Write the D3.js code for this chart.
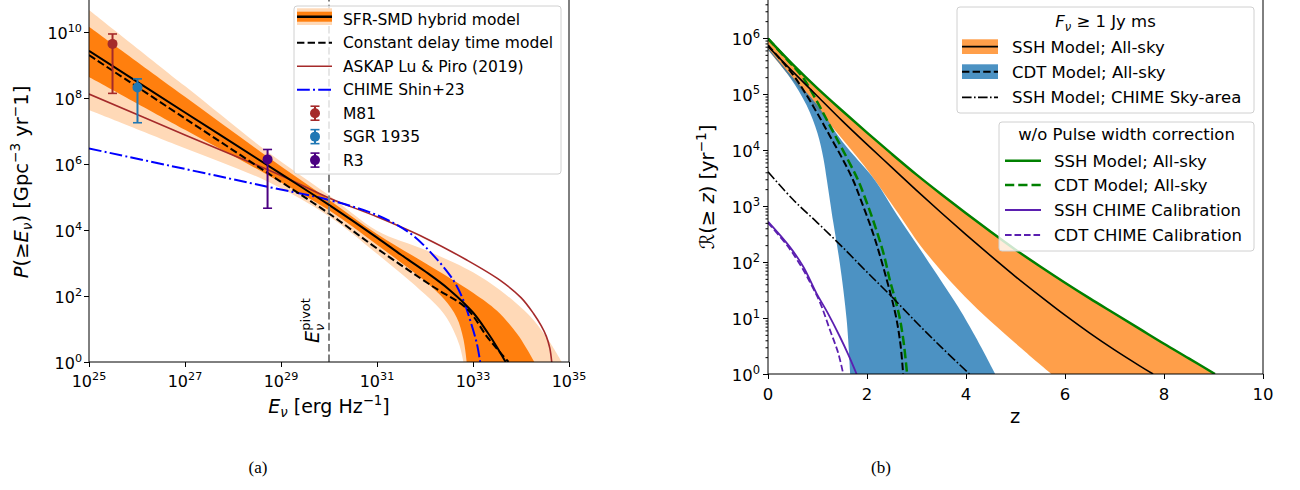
<!DOCTYPE html>
<html><head><meta charset="utf-8">
<script src="https://cdn.jsdelivr.net/npm/d3@7"></script>
<style>
body{margin:0;background:#fff}
svg{display:block}
text{font-family:"DejaVu Sans",sans-serif;fill:#000}
</style>
</head><body>
<svg id="c" width="1300" height="490"></svg>
<script>
// ---------------- DATA (log10 values) ----------------
// Panel (a): x = log10(E_nu / erg Hz^-1), y = log10(P / Gpc^-3 yr^-1)
const leftXTicks = [25, 27, 29, 31, 33, 35];
const leftYTicks = [0, 2, 4, 6, 8, 10];
const hybridModel = [[25,9.43],[27,7.56],[29,5.70],[30,4.76],[31,3.77],[31.5,3.25],[32,2.75],[32.5,2.2],[33,1.5],[33.3,0.9],[33.5,0.45],[33.68,0]];
const constDelayModel = [[25,9.30],[27,7.38],[29,5.46],[30,4.50],[31,3.44],[32.17,2.28],[32.87,1.62],[33.29,0.77],[33.5,0.4],[33.74,0]];
const hybridDarkUpper = [[25,10.16],[27,8.04],[28.72,6.22],[30,4.92],[31,3.88],[32,3.0],[33,2.1],[33.5,1.55],[33.91,0.87],[34.1,0.45],[34.28,0]];
const hybridDarkLower = [[25,8.64],[27,7.04],[28.72,5.67],[30,4.6],[31,3.55],[32,2.45],[32.4,1.9],[32.66,1.35],[32.8,0.7],[32.87,0]];
const hybridLightUpper = [[25,10.67],[27,8.36],[28.72,6.37],[30,5.05],[31,3.98],[32,3.4],[33,2.72],[33.56,2.18],[34,1.65],[34.26,1.27],[34.6,0.6],[34.85,0]];
const hybridLightLower = [[25,7.64],[27,6.48],[28.72,5.47],[30,4.42],[31,3.28],[32,2.05],[32.4,1.45],[32.59,0.97],[32.72,0.5],[32.8,0]];
const askapLuPiro = [[25,8.12],[27,6.88],[29,5.65],[30,4.97],[31,4.40],[32,3.76],[32.87,3.09],[33.56,2.48],[34,1.95],[34.26,1.47],[34.42,1.1],[34.53,0.77],[34.6,0.42],[34.64,0]];
const chimeShin23 = [[25,6.47],[27,5.85],[28.72,5.31],[30,4.91],[31,4.45],[31.69,3.90],[32.17,3.24],[32.59,2.48],[32.8,1.87],[32.94,1.27],[33.08,0.56],[33.15,0]];
const pivotLogE = 30;
const sourceNames = ["M81", "SGR 1935", "R3"];
const sourceLogE = [25.49, 26.01, 28.72];
const sourceLogP = [9.64, 8.32, 6.14];
const sourceLogPHi = [9.94, 8.58, 6.44];
const sourceLogPLo = [8.14, 7.25, 4.66];

// Panel (b): x = z, y = log10(R(>=z) / yr^-1)
const rightXTicks = [0, 2, 4, 6, 8, 10];
const rightYTicks = [0, 1, 2, 3, 4, 5, 6];
const sshAllSky = [[0,5.85],[0.5,5.40],[1,4.96],[1.5,4.52],[2,4.10],[2.5,3.69],[3,3.28],[3.5,2.88],[4,2.49],[4.5,2.11],[5,1.74],[5.5,1.39],[6,1.05],[6.5,0.73],[7,0.43],[7.5,0.15],[7.78,0]];
const sshBandUpper = [[0,5.98],[0.5,5.52],[1,5.09],[1.5,4.69],[2,4.30],[2.5,3.92],[3,3.55],[3.5,3.20],[4,2.86],[4.5,2.53],[5,2.21],[5.5,1.91],[6,1.62],[6.5,1.34],[7,1.07],[7.5,0.80],[8,0.53],[8.5,0.27],[9.02,0]];
const sshBandLower = [[0,5.79],[0.61,5.13],[1.29,4.42],[1.96,3.70],[2.63,2.87],[3.1,2.27],[3.98,1.38],[5.0,0.55],[5.73,0]];
const cdtAllSky = [[0,5.87],[0.5,5.35],[0.8,4.95],[1.0,4.65],[1.25,4.25],[1.5,3.85],[1.72,3.46],[1.9,3.05],[2.1,2.57],[2.25,2.15],[2.4,1.68],[2.5,1.35],[2.6,0.96],[2.68,0.5],[2.73,0]];
const cdtBandUpper = [[0,5.82],[0.5,5.3],[1.0,4.8],[1.5,4.15],[2.16,3.46],[2.6,2.85],[3.17,2.10],[3.84,1.20],[4.2,0.65],[4.59,0]];
const cdtBandLower = [[0,5.79],[0.44,5.3],[0.78,4.8],[1.0,4.3],[1.12,3.85],[1.19,3.46],[1.32,2.7],[1.45,1.98],[1.59,0.96],[1.66,0]];
const sshChimeSky = [[0,3.61],[0.5,3.12],[1.0,2.7],[1.5,2.27],[2.0,1.82],[2.5,1.38],[3.0,0.92],[3.5,0.48],[4.07,0]];
const sshNoCorr = [[0,5.99],[0.5,5.53],[1,5.10],[1.5,4.70],[2,4.31],[2.5,3.93],[3,3.56],[3.5,3.21],[4,2.87],[4.5,2.54],[5,2.22],[5.5,1.92],[6,1.63],[6.5,1.35],[7,1.08],[7.5,0.81],[8,0.54],[8.5,0.28],[9.03,0]];
const cdtNoCorr = [[0,5.99],[0.4,5.6],[0.7,5.3],[1.0,4.85],[1.3,4.35],[1.6,3.85],[1.82,3.46],[2.0,3.05],[2.19,2.57],[2.35,2.1],[2.46,1.68],[2.58,1.3],[2.67,0.96],[2.75,0.5],[2.81,0]];
const sshChimeCal = [[0,2.72],[0.44,2.27],[0.71,1.92],[0.98,1.44],[1.2,1.1],[1.45,0.67],[1.62,0.35],[1.79,0]];
const cdtChimeCal = [[0,2.70],[0.4,2.28],[0.7,1.88],[0.9,1.55],[1.05,1.28],[1.25,0.79],[1.42,0.37],[1.52,0]];

// ---------------- DRAWING ----------------
const svg = d3.select("#c");
const P = v => Math.pow(10, v);
const ORANGE = "#ff7f0e", LIGHTOR = "#ffd9b7", TBLUE = "#1f77b4";
const CURVE = d3.curveCatmullRom.alpha(0.5);

function supLabel(g, base, exp, x, y, anchor, size) {
  const t = g.append("text").attr("x", x).attr("y", y).attr("text-anchor", anchor).style("font-size", size + "px");
  t.append("tspan").text(base);
  t.append("tspan").attr("dy", -size * 0.45).style("font-size", (size * 0.7) + "px").text(exp);
  return t;
}

function bandPath(upper, lower, fx, fy) {
  const line = d3.line().x(d => fx(d[0])).y(d => fy(d[1])).curve(CURVE);
  const up = line(upper);
  const lo = line(lower.slice().reverse());
  return up + "L" + lo.slice(1) + "Z";
}

// ===== Panel (a) =====
const xL = d3.scaleLog().domain([1e25, 1e35]).range([89, 569]);
const yL = d3.scaleLog().domain([1, 1e11]).range([362, -1]);
const fxL = v => xL(P(v)), fyL = v => yL(P(v));
const gA = svg.append("g");
svg.append("defs").append("clipPath").attr("id", "clipA").append("rect").attr("x", 89).attr("y", -5).attr("width", 480).attr("height", 367);
const plotA = gA.append("g").attr("clip-path", "url(#clipA)");
plotA.append("path").attr("d", bandPath(hybridLightUpper, hybridLightLower, fxL, fyL)).attr("fill", LIGHTOR);
plotA.append("path").attr("d", bandPath(hybridDarkUpper, hybridDarkLower, fxL, fyL)).attr("fill", ORANGE);
const lineL = d3.line().x(d => fxL(d[0])).y(d => fyL(d[1])).curve(CURVE);
plotA.append("path").attr("d", lineL(askapLuPiro)).attr("fill", "none").attr("stroke", "#a52a2a").attr("stroke-width", 1.6);
plotA.append("path").attr("d", lineL(chimeShin23)).attr("fill", "none").attr("stroke", "#0000ff").attr("stroke-width", 2).attr("stroke-dasharray", "12.8,3.2,2,3.2");
plotA.append("path").attr("d", lineL(constDelayModel)).attr("fill", "none").attr("stroke", "#000").attr("stroke-width", 2).attr("stroke-dasharray", "7.4,3.2");
plotA.append("path").attr("d", lineL(hybridModel)).attr("fill", "none").attr("stroke", "#000").attr("stroke-width", 2);
plotA.append("line").attr("x1", fxL(pivotLogE)).attr("x2", fxL(pivotLogE)).attr("y1", 362).attr("y2", -5)
  .attr("stroke", "#808080").attr("stroke-width", 2).attr("stroke-dasharray", "7.4,3.2");
const srcColors = ["#a52a2a", TBLUE, "#4b0082"];
sourceNames.forEach((n, i) => {
  const cx = fxL(sourceLogE[i]);
  const g = plotA.append("g");
  g.append("line").attr("x1", cx).attr("x2", cx).attr("y1", fyL(sourceLogPHi[i])).attr("y2", fyL(sourceLogPLo[i])).attr("stroke", srcColors[i]).attr("stroke-width", 2);
  [sourceLogPHi[i], sourceLogPLo[i]].forEach(v => g.append("line").attr("x1", cx - 4.5).attr("x2", cx + 4.5).attr("y1", fyL(v)).attr("y2", fyL(v)).attr("stroke", srcColors[i]).attr("stroke-width", 1.6));
  g.append("circle").attr("cx", cx).attr("cy", fyL(sourceLogP[i])).attr("r", 5).attr("fill", srcColors[i]);
});
// pivot label
const pv = gA.append("text").attr("transform", `translate(${fxL(pivotLogE) - 10},343) rotate(-90)`).style("font-size", "19px");
pv.append("tspan").style("font-style", "italic").text("E");
pv.append("tspan").attr("dy", 5).style("font-size", "13px").style("font-style", "italic").text("ν");
pv.append("tspan").attr("dx", -7).attr("dy", -14).style("font-size", "13px").text("pivot");
// frame & axes
gA.append("line").attr("x1", 89).attr("x2", 89).attr("y1", -5).attr("y2", 362).attr("stroke", "#000");
gA.append("line").attr("x1", 569).attr("x2", 569).attr("y1", -5).attr("y2", 362).attr("stroke", "#000");
gA.append("line").attr("x1", 89).attr("x2", 569).attr("y1", 362).attr("y2", 362).attr("stroke", "#000");
const axA_x = gA.append("g").attr("transform", "translate(0,362)")
  .call(d3.axisBottom(xL).tickValues(leftXTicks.map(P)).tickSize(5).tickSizeOuter(0).tickFormat(""));
axA_x.select(".domain").remove();
const axA_y = gA.append("g").attr("transform", "translate(89,0)")
  .call(d3.axisLeft(yL).tickValues(leftYTicks.map(P)).tickSize(5).tickSizeOuter(0).tickFormat(""));
axA_y.select(".domain").remove();
leftXTicks.forEach(t => supLabel(gA, "10", String(t), fxL(t), 387, "middle", 16));
leftYTicks.forEach(t => supLabel(gA, "10", String(t), 82, fyL(t) + 7, "end", 16));
// axis labels
const xlA = gA.append("text").attr("x", 329).attr("y", 413).attr("text-anchor", "middle").style("font-size", "19px");
xlA.append("tspan").style("font-style", "italic").text("E");
xlA.append("tspan").attr("dy", 4).style("font-size", "13.3px").style("font-style", "italic").text("ν");
xlA.append("tspan").attr("dy", -4).text(" [erg Hz");
xlA.append("tspan").attr("dy", -8).style("font-size", "13.3px").text("−1");
xlA.append("tspan").attr("dy", 8).text("]");
const ylA = gA.append("text").attr("transform", "translate(28,182) rotate(-90)").attr("text-anchor", "middle").style("font-size", "19.5px");
ylA.append("tspan").style("font-style", "italic").text("P");
ylA.append("tspan").text("(≥");
ylA.append("tspan").style("font-style", "italic").text("E");
ylA.append("tspan").attr("dy", 4).style("font-size", "13.6px").style("font-style", "italic").text("ν");
ylA.append("tspan").attr("dy", -4).text(") [Gpc");
ylA.append("tspan").attr("dy", -8).style("font-size", "13.6px").text("−3");
ylA.append("tspan").attr("dy", 8).text(" yr");
ylA.append("tspan").attr("dy", -8).style("font-size", "13.6px").text("−");
ylA.append("tspan").attr("dy", 8).text("1]");
// legend (a)
const lgA = gA.append("g");
lgA.append("rect").attr("x", 294).attr("y", 6).attr("width", 267).attr("height", 168).attr("rx", 3)
  .attr("fill", "#fff").attr("fill-opacity", 0.8).attr("stroke", "#d0d0d0");
const legFs = 15.5, legX = 343, hx0 = 297, hx1 = 332;
const legA = ["SFR-SMD hybrid model", "Constant delay time model", "ASKAP Lu & Piro (2019)", "CHIME Shin+23"].concat(sourceNames);
legA.forEach((s, i) => {
  const b = 25 + 23.45 * i, c = b - 5.6;
  lgA.append("text").attr("x", legX).attr("y", b).style("font-size", legFs + "px").text(s);
  if (i === 0) {
    lgA.append("rect").attr("x", hx0).attr("y", 8.3).attr("width", hx1 - hx0).attr("height", 16.7).attr("fill", LIGHTOR);
    lgA.append("rect").attr("x", hx0).attr("y", 11.7).attr("width", hx1 - hx0).attr("height", 10).attr("fill", ORANGE);
    lgA.append("line").attr("x1", hx0).attr("x2", hx1).attr("y1", 16.7).attr("y2", 16.7).attr("stroke", "#000").attr("stroke-width", 2.5);
  } else if (i === 1) {
    lgA.append("line").attr("x1", hx0).attr("x2", hx1).attr("y1", c).attr("y2", c).attr("stroke", "#000").attr("stroke-width", 2).attr("stroke-dasharray", "7.4,3.2");
  } else if (i === 2) {
    lgA.append("line").attr("x1", hx0).attr("x2", hx1).attr("y1", c).attr("y2", c).attr("stroke", "#a52a2a").attr("stroke-width", 1.6);
  } else if (i === 3) {
    lgA.append("line").attr("x1", hx0).attr("x2", hx1).attr("y1", c).attr("y2", c).attr("stroke", "#0000ff").attr("stroke-width", 2).attr("stroke-dasharray", "12.8,3.2,2,3.2");
  } else {
    const col = srcColors[i - 4], mx = 315;
    lgA.append("line").attr("x1", mx).attr("x2", mx).attr("y1", c - 7).attr("y2", c + 7).attr("stroke", col).attr("stroke-width", 2);
    [c - 7, c + 7].forEach(v => lgA.append("line").attr("x1", mx - 4.5).attr("x2", mx + 4.5).attr("y1", v).attr("y2", v).attr("stroke", col).attr("stroke-width", 1.6));
    lgA.append("circle").attr("cx", mx).attr("cy", c).attr("r", 5).attr("fill", col);
  }
});

// ===== Panel (b) =====
const xR = d3.scaleLinear().domain([0, 10]).range([768, 1263]);
const yR = d3.scaleLog().domain([1, 1e7]).range([374, -18]);
const fxR = v => xR(v), fyR = v => yR(P(v));
const gB = svg.append("g");
svg.select("defs").append("clipPath").attr("id", "clipB").append("rect").attr("x", 768).attr("y", -20).attr("width", 495).attr("height", 394);
const plotB = gB.append("g").attr("clip-path", "url(#clipB)");
plotB.append("path").attr("d", bandPath(sshBandUpper, sshBandLower, fxR, fyR)).attr("fill", ORANGE).attr("fill-opacity", 0.75);
plotB.append("path").attr("d", bandPath(cdtBandUpper, cdtBandLower, fxR, fyR)).attr("fill", TBLUE).attr("fill-opacity", 0.8);
const lineR = d3.line().x(d => fxR(d[0])).y(d => fyR(d[1])).curve(CURVE);
const PURPLE = "#5b1fb0";
plotB.append("path").attr("d", lineR(sshNoCorr)).attr("fill", "none").attr("stroke", "#008000").attr("stroke-width", 2.5);
plotB.append("path").attr("d", lineR(cdtNoCorr)).attr("fill", "none").attr("stroke", "#008000").attr("stroke-width", 2.5).attr("stroke-dasharray", "9.25,4");
plotB.append("path").attr("d", lineR(sshAllSky)).attr("fill", "none").attr("stroke", "#000").attr("stroke-width", 1.6);
plotB.append("path").attr("d", lineR(cdtAllSky)).attr("fill", "none").attr("stroke", "#000").attr("stroke-width", 2).attr("stroke-dasharray", "7.4,3.2");
plotB.append("path").attr("d", lineR(sshChimeSky)).attr("fill", "none").attr("stroke", "#000").attr("stroke-width", 1.6).attr("stroke-dasharray", "9.6,2.4,1.6,2.4");
plotB.append("path").attr("d", lineR(sshChimeCal)).attr("fill", "none").attr("stroke", PURPLE).attr("stroke-width", 1.8);
plotB.append("path").attr("d", lineR(cdtChimeCal)).attr("fill", "none").attr("stroke", PURPLE).attr("stroke-width", 1.8).attr("stroke-dasharray", "6.6,2.9");
// frame & axes
gB.append("line").attr("x1", 768).attr("x2", 768).attr("y1", -20).attr("y2", 374).attr("stroke", "#000");
gB.append("line").attr("x1", 1263).attr("x2", 1263).attr("y1", -20).attr("y2", 374).attr("stroke", "#000");
gB.append("line").attr("x1", 768).attr("x2", 1263).attr("y1", 374).attr("y2", 374).attr("stroke", "#000");
const axB_x = gB.append("g").attr("transform", "translate(0,374)")
  .call(d3.axisBottom(xR).tickValues(rightXTicks).tickSize(5).tickSizeOuter(0).tickFormat(""));
axB_x.select(".domain").remove();
const minorVals = [];
for (let d = 0; d < 7; d++) for (let k = 2; k <= 9; k++) minorVals.push(k * P(d));
const axB_ym = gB.append("g").attr("transform", "translate(768,0)")
  .call(d3.axisLeft(yR).tickValues(minorVals).tickSize(2.5).tickSizeOuter(0).tickFormat(""));
axB_ym.select(".domain").remove();
const axB_y = gB.append("g").attr("transform", "translate(768,0)")
  .call(d3.axisLeft(yR).tickValues(rightYTicks.map(P)).tickSize(5).tickSizeOuter(0).tickFormat(""));
axB_y.select(".domain").remove();
rightXTicks.forEach(t => gB.append("text").attr("x", xR(t)).attr("y", 400).attr("text-anchor", "middle").style("font-size", "16.5px").text(String(t)));
rightYTicks.forEach(t => supLabel(gB, "10", String(t), 760, fyR(t) + 7, "end", 16.5));
gB.append("text").attr("x", 1015).attr("y", 423).attr("text-anchor", "middle").style("font-size", "19.5px").text("z");
const ylB = gB.append("text").attr("transform", "translate(714,187) rotate(-90)").attr("text-anchor", "middle").style("font-size", "19.5px");
ylB.append("tspan").text("ℛ(≥ ");
ylB.append("tspan").style("font-style", "italic").text("z");
ylB.append("tspan").text(") [yr");
ylB.append("tspan").attr("dy", -8).style("font-size", "13.6px").text("−1");
ylB.append("tspan").attr("dy", 8).text("]");
// legend (b) 1
const lgB = gB.append("g");
const fsB = 16.5;
lgB.append("rect").attr("x", 957).attr("y", 7).attr("width", 297).attr("height", 106).attr("rx", 3)
  .attr("fill", "#fff").attr("fill-opacity", 0.8).attr("stroke", "#d0d0d0");
const tt1 = lgB.append("text").attr("x", 1105.5).attr("y", 27).attr("text-anchor", "middle").style("font-size", fsB + "px");
tt1.append("tspan").style("font-style", "italic").text("F");
tt1.append("tspan").attr("dy", 4).style("font-size", "11.5px").style("font-style", "italic").text("ν");
tt1.append("tspan").attr("dy", -4).text(" ≥ 1 Jy ms");
const l1 = ["SSH Model; All-sky", "CDT Model; All-sky", "SSH Model; CHIME Sky-area"];
const l1c = [46.7, 71.7, 97.3];
l1.forEach((s, i) => lgB.append("text").attr("x", 1012).attr("y", l1c[i] + 6).style("font-size", fsB + "px").text(s));
lgB.append("rect").attr("x", 962).attr("y", 39.3).attr("width", 36).attr("height", 14.7).attr("fill", ORANGE).attr("fill-opacity", 0.75);
lgB.append("line").attr("x1", 962).attr("x2", 998).attr("y1", 46.7).attr("y2", 46.7).attr("stroke", "#000").attr("stroke-width", 1.8);
lgB.append("rect").attr("x", 962).attr("y", 64.3).attr("width", 36).attr("height", 14.7).attr("fill", TBLUE).attr("fill-opacity", 0.8);
lgB.append("line").attr("x1", 962).attr("x2", 998).attr("y1", 71.7).attr("y2", 71.7).attr("stroke", "#000").attr("stroke-width", 2).attr("stroke-dasharray", "7.4,3.2");
lgB.append("line").attr("x1", 962).attr("x2", 998).attr("y1", 97.3).attr("y2", 97.3).attr("stroke", "#000").attr("stroke-width", 1.8).attr("stroke-dasharray", "9.6,2.4,1.6,2.4");
// legend (b) 2
lgB.append("rect").attr("x", 999).attr("y", 122).attr("width", 255).attr("height", 129).attr("rx", 3)
  .attr("fill", "#fff").attr("fill-opacity", 0.8).attr("stroke", "#d0d0d0");
lgB.append("text").attr("x", 1126.5).attr("y", 140).attr("text-anchor", "middle").style("font-size", fsB + "px").text("w/o Pulse width correction");
const l2 = ["SSH Model; All-sky", "CDT Model; All-sky", "SSH CHIME Calibration", "CDT CHIME Calibration"];
const l2c = [160.7, 185, 210, 235];
const l2col = ["#008000", "#008000", PURPLE, PURPLE];
const l2w = [2.5, 2.5, 1.8, 1.8];
const l2d = [null, "9.25,4", null, "6.6,2.9"];
l2.forEach((s, i) => {
  lgB.append("text").attr("x", 1054).attr("y", l2c[i] + 6).style("font-size", fsB + "px").text(s);
  const ln = lgB.append("line").attr("x1", 1005).attr("x2", 1041).attr("y1", l2c[i]).attr("y2", l2c[i]).attr("stroke", l2col[i]).attr("stroke-width", l2w[i]);
  if (l2d[i]) ln.attr("stroke-dasharray", l2d[i]);
});

// captions
svg.append("text").attr("x", 258).attr("y", 473).attr("text-anchor", "middle").style("font-family", "'Liberation Serif',serif").style("font-size", "17px").text("(a)");
svg.append("text").attr("x", 881).attr("y", 473).attr("text-anchor", "middle").style("font-family", "'Liberation Serif',serif").style("font-size", "17px").text("(b)");
</script>
</body></html>
